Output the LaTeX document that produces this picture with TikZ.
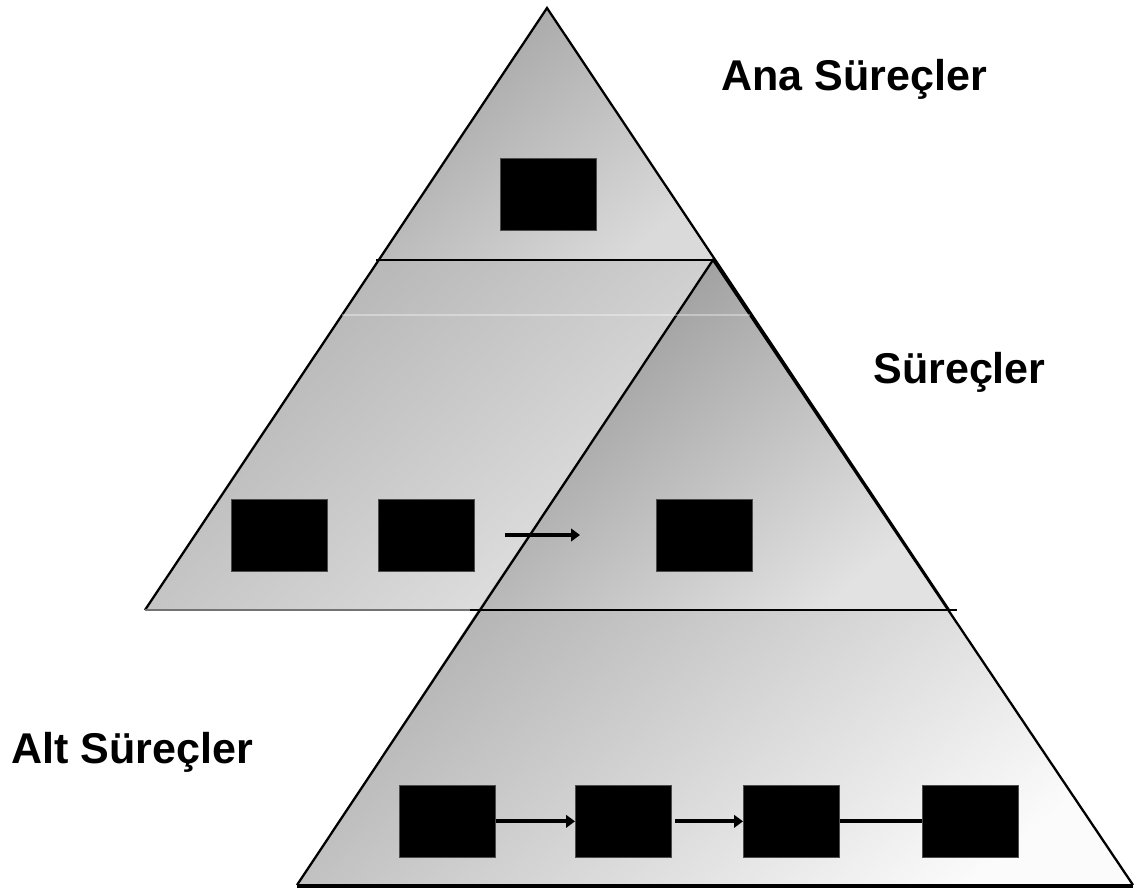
\documentclass[tikz,border=0pt]{standalone}
\usepackage{fontspec}
\setmainfont{Liberation Sans}
\usetikzlibrary{arrows.meta}
\definecolor{shDark}{HTML}{A2A2A2}
\definecolor{shMid}{HTML}{B4B4B4}
\definecolor{shLight}{HTML}{DADADA}
\definecolor{shPale}{HTML}{F4F4F4}
\tikzset{
  px/.style={x=0.02cm,y=-0.02cm},
  edge/.style={draw=black,line width=1.3pt,line join=miter},
  procbox/.style={fill=black,draw=black!70,line width=0.4pt,minimum width=1.92cm,minimum height=1.44cm,inner sep=0pt,anchor=north west},
  flow/.style={line width=2.4pt,-{Triangle[length=5pt,width=7pt]}},
  level/.style={font=\fontsize{24.5}{29}\selectfont\bfseries,anchor=base west,inner sep=0pt}
}
\begin{document}
\begin{tikzpicture}[px]
\useasboundingbox (0,0) rectangle (1138,891);
% upper pyramid: top section
\shade[top color=shDark,bottom color=shLight,shading angle=40]
  (547,8) -- (715,260) -- (378.7,260) -- cycle;
% upper pyramid: middle section
\shade[top color=shMid,bottom color=shPale!90!shLight,shading angle=40]
  (378.7,260) -- (715,260) -- (949,610) -- (145,610) -- cycle;
\draw[edge] (145,610) -- (547,8) -- (949,610);
\draw[draw=black!55,line width=1.6pt] (145,610) -- (483,610);
% lower pyramid: top section
\shade[top color=shDark!92!black,bottom color=shLight!70!shPale,shading angle=40]
  (713,260) -- (949,610) -- (478,610) -- cycle;
% lower pyramid: bottom section
\shade[top color=shMid,bottom color=white!60!shPale,shading angle=40]
  (478,610) -- (949,610) -- (1133,885) -- (297,885) -- cycle;
\draw[edge] (297,885) -- (713,260) -- (1133,885);
\draw[white,opacity=0.35,line width=0.8pt] (342,315) -- (750,315);
% level dividers
\draw[line width=1.7pt] (376,260) -- (713,260);
\draw[line width=1.1pt] (470,610) -- (957,610);
\draw[line width=1.8pt] (297,886) -- (1133,886);
% process boxes
\node[procbox] (top) at (500,158) {};
\node[procbox] (m1) at (231,499) {};
\node[procbox] (m2) at (378,499) {};
\node[procbox] (m3) at (656,499) {};
\node[procbox] (b1) at (399,785) {};
\node[procbox] (b2) at (575,785) {};
\node[procbox] (b3) at (743,785) {};
\node[procbox] (b4) at (922,785) {};
% flows
\coordinate (fs) at (505,535);
\coordinate (fe) at (580,535);
\draw[flow,line width=2.7pt] (fs) -- (fe);
\draw[flow] (b1.east) -- (b2.west);
\draw[flow,shorten <=2pt] (b2.east) -- (b3.west);
\draw[flow,shorten >=-6pt] (b3.east) -- (b4.west);
\node[procbox] at (b4.north west) {};
% level labels
\node[level] (lTop) at (721,91) {Ana Süreçler};
\node[level] (lMid) at (873,383) {Süreçler};
\node[level] (lLow) at (11,763) {Alt Süreçler};
\end{tikzpicture}
\end{document}
